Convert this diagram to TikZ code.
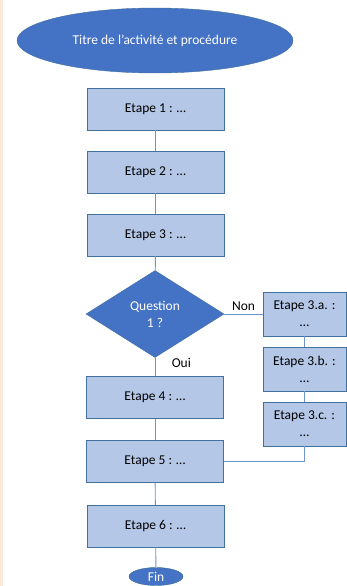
\documentclass[tikz,border=0pt]{standalone}
\usepackage{fontspec}
\setmainfont{Carlito}
\usetikzlibrary{shapes.geometric,positioning}

\definecolor{titleblue}{HTML}{4472C4}
\definecolor{boxblue}{HTML}{B4C7E7}
\definecolor{boxline}{HTML}{41719C}
\definecolor{linkblue}{HTML}{6F93CB}
\definecolor{edgepeach}{HTML}{FBEADB}

\tikzset{
  texte/.style={font=\fontsize{13.5}{17}\selectfont},
  etape/.style={texte, draw=boxline, fill=boxblue, minimum width=137pt, minimum height=42pt,
    inner sep=0pt},
  sousetape/.style={etape, minimum width=83pt, minimum height=44pt, align=center},
  titre/.style={texte, ellipse, draw=boxline, fill=titleblue, text=white, inner sep=0pt},
  question/.style={texte, diamond, draw=boxline, fill=titleblue, text=white, inner sep=0pt,
    minimum width=138pt, minimum height=87pt, align=center},
  lien/.style={draw=linkblue, line width=0.9pt}
}

\begin{document}
\begin{tikzpicture}[x=1pt, y=-1pt]
            \useasboundingbox (0,0) rectangle (347,586);
            \fill[white] (0,0) rectangle (347,586);
            \fill[edgepeach] (0,0) rectangle (2.5,586);

            % colonne principale
            \node[titre, minimum width=276pt, minimum height=65pt] (debut) at (155,40.5) {Titre de l’activité et procédure};
            \node[etape] (e1) at (155.5,109) {Etape 1 : …};
            \node[etape] (e2) at (155.5,172) {Etape 2 : …};
            \node[etape] (e3) at (155.5,235) {Etape 3 : …};
            \node[question] (q1) at (155,314) {Question\\1 ?};
            \node[etape] (e4) at (155,397.5) {Etape 4 : …};
            \node[etape] (e5) at (155,461.5) {Etape 5 : …};
            \node[etape] (e6) at (155.5,526) {Etape 6 : …};
            \node[titre, minimum width=54pt, minimum height=18pt] (fin) at (156,576.5) {Fin};

            % branche Non
            \node[sousetape] (e3a) at (304.5,314) {Etape 3.a. :\\…};
            \node[sousetape] (e3b) at (304.5,369) {Etape 3.b. :\\…};
            \node[sousetape] (e3c) at (304.5,424) {Etape 3.c. :\\…};

            \draw[lien] (e1) -- (e2);
            \draw[lien] (e2) -- (e3);
            \draw[lien] (e3) -- (q1);
            \draw[lien] (q1) -- (e4) node[texte, pos=0.3, right=13pt] {Oui};
            \draw[lien] (e4) -- (e5);
            \draw[lien] (e5) -- (e6);
            \draw[lien] (e6) -- (fin);
            \draw[lien] (q1) -- (e3a) node[texte, pos=0.5, above=0pt] {Non};
            \draw[lien] (e3a) -- (e3b);
            \draw[lien] (e3b) -- (e3c);
            \draw[lien] (e3c.south) |- (e5.east);
        \end{tikzpicture}
\end{document}
